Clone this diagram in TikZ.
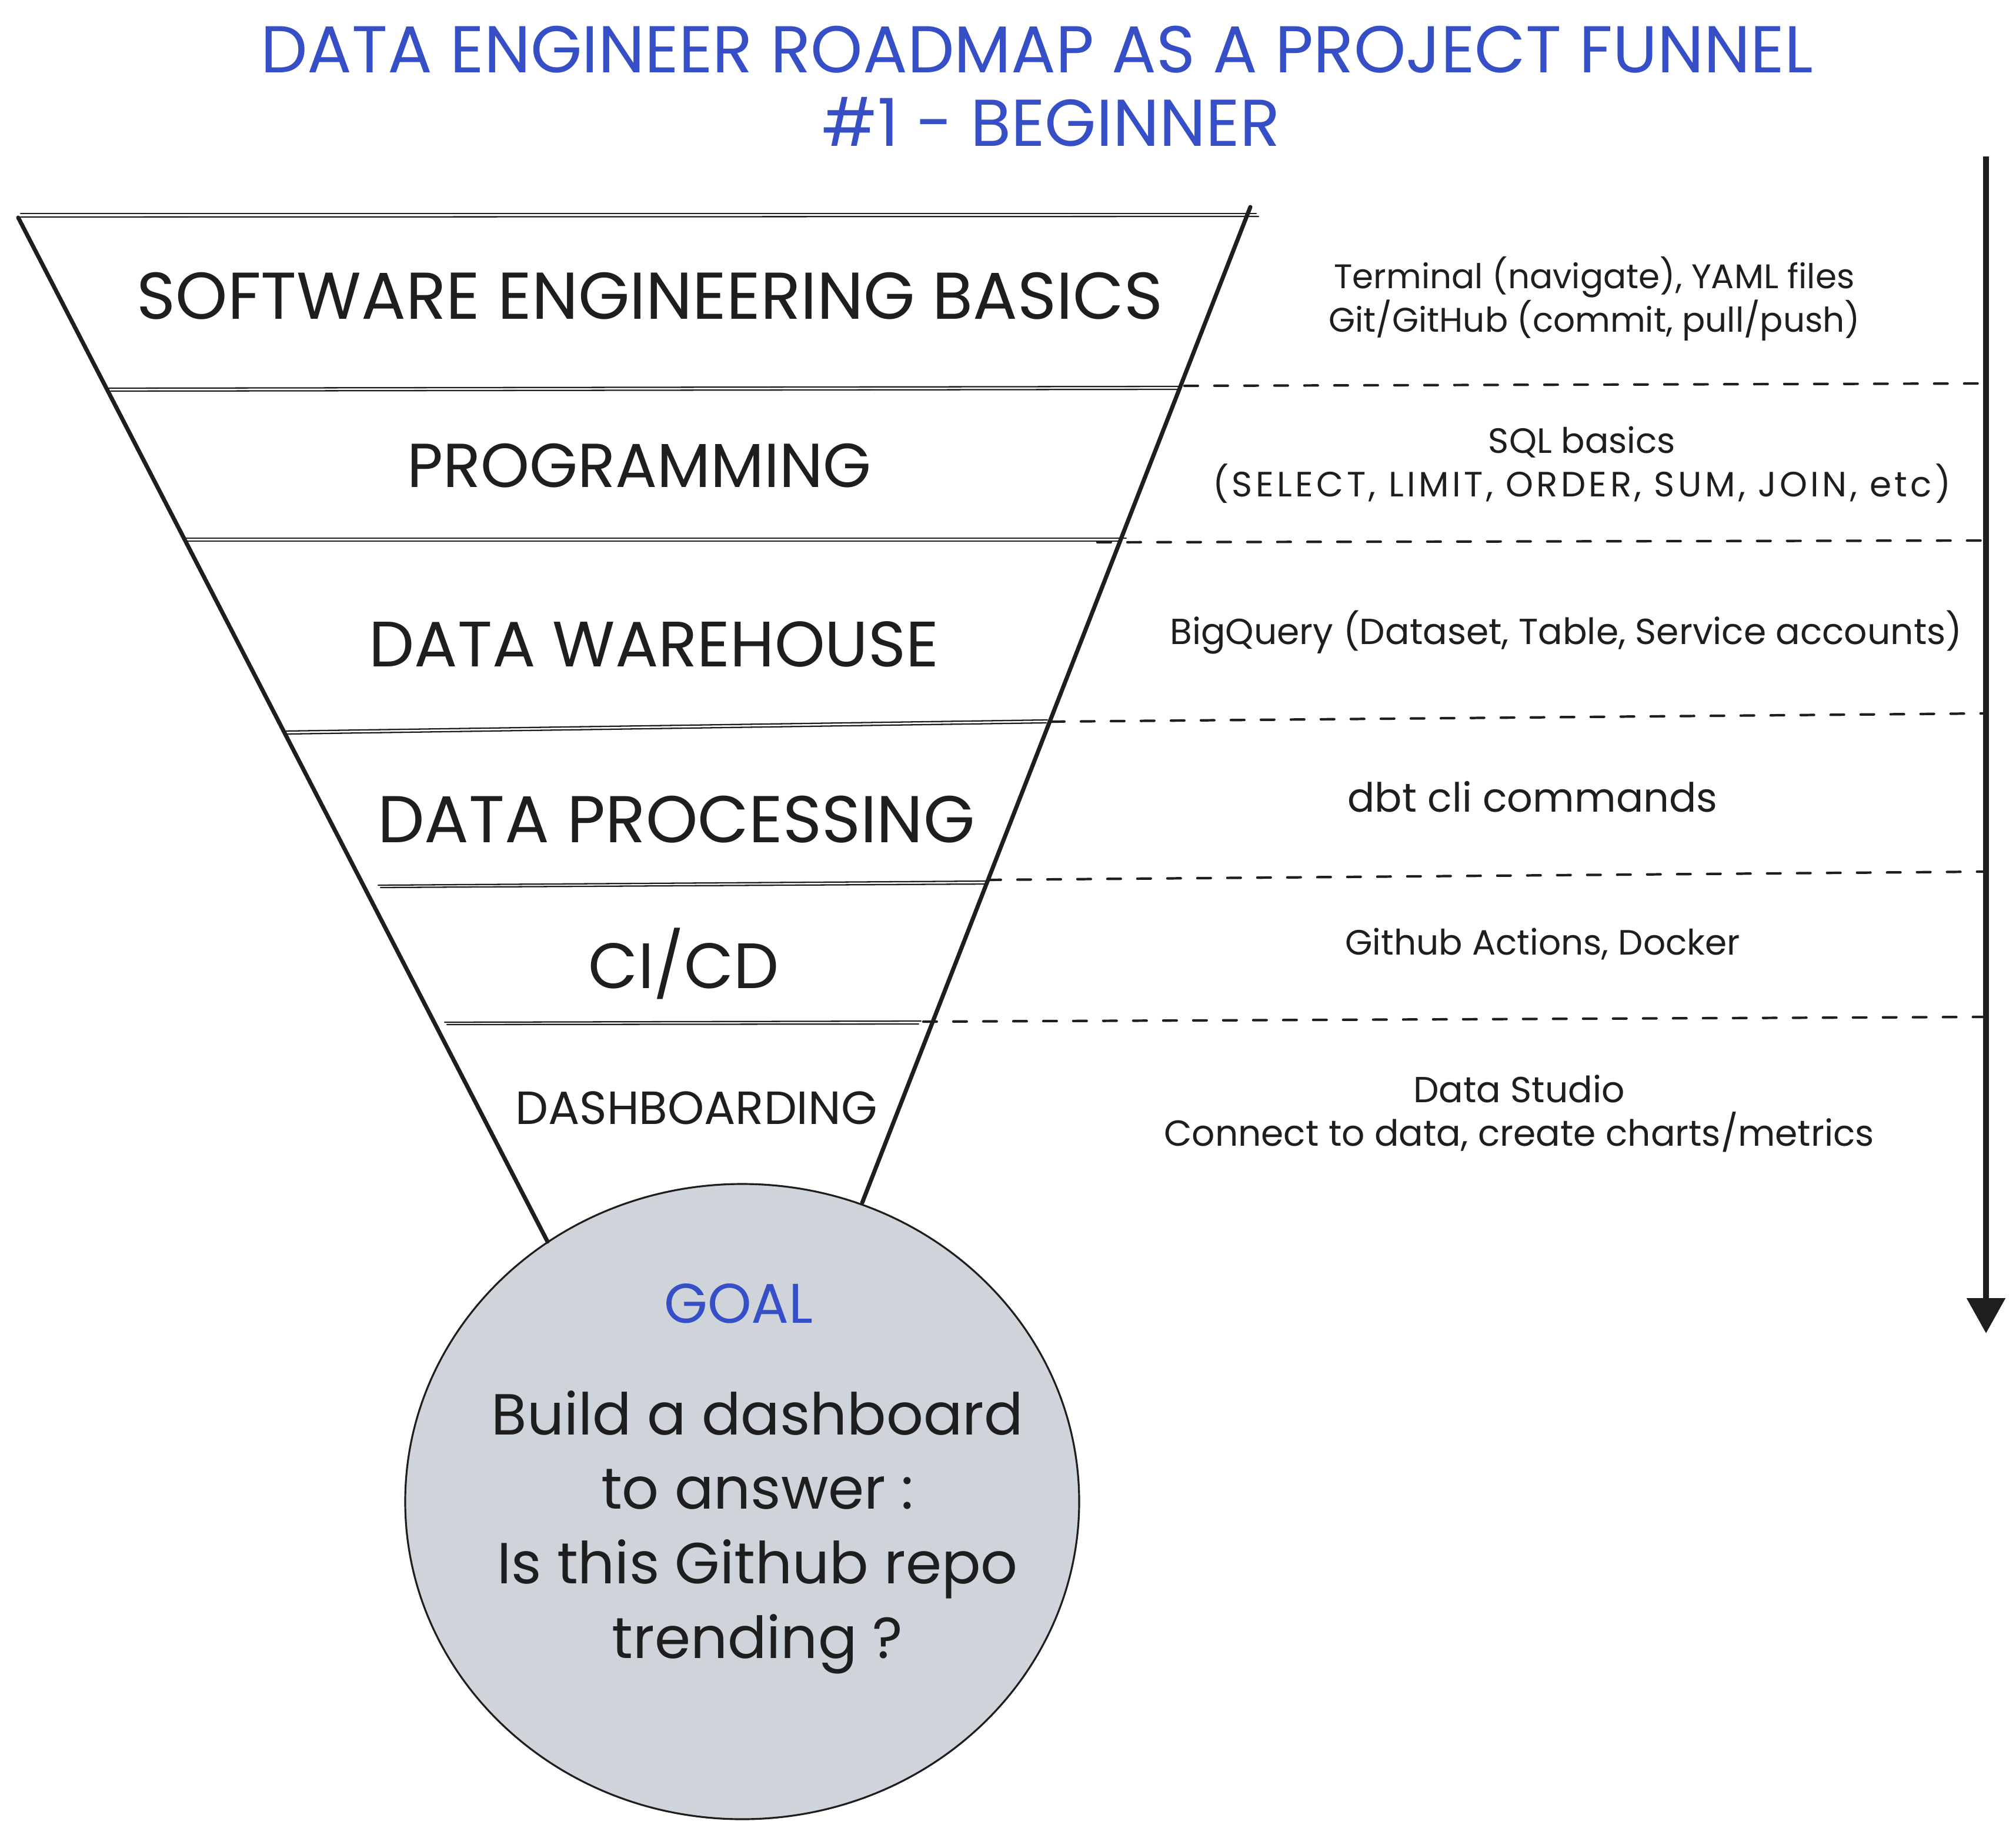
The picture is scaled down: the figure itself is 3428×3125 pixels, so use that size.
\documentclass[tikz,border=0pt]{standalone}
\usepackage{fontspec}
\setmainfont{Poppins}
\usetikzlibrary{arrows.meta,shapes.geometric}
\definecolor{ink}{HTML}{1E1E1E}
\definecolor{titleblue}{HTML}{364FC7}
\definecolor{goalfill}{HTML}{CED4DA}
\newlength{\pxu}
\setlength{\pxu}{0.01cm}
\tikzset{
  titletext/.style={text=titleblue, font=\fontsize{32}{38}\selectfont, inner sep=0pt},
  stagetext/.style={text=ink, font=\fontsize{#1}{34}\selectfont, inner sep=0pt},
  stagetext/.default=31,
  notetext/.style={text=ink, font=\fontsize{#1}{21}\selectfont, align=center, inner sep=0pt},
  notetext/.default=17,
  goaltitle/.style={text=titleblue, font=\fontsize{27}{30}\selectfont, inner sep=0pt},
  goalbody/.style={text=ink, font=\fontsize{28}{36}\selectfont, align=center, inner sep=0pt},
  funneledge/.style={draw=ink, line width=2pt, line cap=round},
  layerline/.style={draw=ink, line width=0.65pt, line cap=round},
  guide/.style={draw=ink, line width=1.2pt, line cap=round, dash pattern=on 6.5pt off 8pt},
  flowarrow/.style={draw=ink, line width=3pt, line join=round, -{Triangle[length=17pt,width=18pt]}},
  goalshape/.style={draw=ink, line width=0.9pt, fill=goalfill, ellipse, minimum width=1146\pxu, minimum height=1080\pxu, inner sep=0pt}
}
\begin{document}
\begin{tikzpicture}[x=0.01cm, y=-0.01cm]
\useasboundingbox (0,0) rectangle (3428,3125);

% title
\node[titletext] (title1) at (1763,84) {DATA ENGINEER ROADMAP AS A PROJECT FUNNEL};
\node[titletext] (title2) at (1787,207) {\#1 - BEGINNER};

% goal ellipse
\node[goalshape] (goal) at (1262,2553) {};

% funnel corners
\coordinate (ftl) at (31,370);
\coordinate (fbl) at (931,2111);
\coordinate (ftr) at (2126,352);
\coordinate (fbr) at (1466,2045);
\draw[funneledge] (ftl) -- (fbl);
\draw[funneledge] (ftr) -- (fbr);

% top double line
\coordinate (t1a) at (35,363); \coordinate (t1b) at (2136,363);
\coordinate (t2a) at (35,369); \coordinate (t2b) at (2140,368);
\draw[layerline] (t1a) -- (t1b);
\draw[layerline] (t2a) -- (t2b);

% layer separators (double strokes)
\coordinate (l1a) at (185,660); \coordinate (l1b) at (2005,657);
\coordinate (l1c) at (188,665); \coordinate (l1d) at (2001,662);
\draw[layerline] (l1a) -- (l1b); \draw[layerline] (l1c) -- (l1d);

\coordinate (l2a) at (316,915); \coordinate (l2b) at (1915,915);
\coordinate (l2c) at (318,920); \coordinate (l2d) at (1905,920);
\draw[layerline] (l2a) -- (l2b); \draw[layerline] (l2c) -- (l2d);

\coordinate (l3a) at (482,1243); \coordinate (l3b) at (1781,1224);
\coordinate (l3c) at (486,1248); \coordinate (l3d) at (1779,1229);
\draw[layerline] (l3a) -- (l3b); \draw[layerline] (l3c) -- (l3d);

\coordinate (l4a) at (643,1505); \coordinate (l4b) at (1679,1498);
\coordinate (l4c) at (647,1509); \coordinate (l4d) at (1675,1503);
\draw[layerline] (l4a) -- (l4b); \draw[layerline] (l4c) -- (l4d);

\coordinate (l5a) at (756,1738); \coordinate (l5b) at (1566,1736);
\coordinate (l5c) at (760,1742); \coordinate (l5d) at (1562,1741);
\draw[layerline] (l5a) -- (l5b); \draw[layerline] (l5c) -- (l5d);

% dashed guides
\coordinate (d1a) at (2014,656); \coordinate (d1b) at (3372,652);
\coordinate (d2a) at (1866,922); \coordinate (d2b) at (3372,919);
\coordinate (d3a) at (1787,1227); \coordinate (d3b) at (3372,1213);
\coordinate (d4a) at (1679,1496); \coordinate (d4b) at (3372,1482);
\coordinate (d5a) at (1570,1737); \coordinate (d5b) at (3372,1729);
\draw[guide] (d1a) -- (d1b);
\draw[guide] (d2a) -- (d2b);
\draw[guide] (d3a) -- (d3b);
\draw[guide] (d4a) -- (d4b);
\draw[guide] (d5a) -- (d5b);

% vertical arrow
\coordinate (arrtop) at (3377,266);
\coordinate (arrtip) at (3377,2267);
\draw[flowarrow] (arrtop) -- (arrtip);

% stage labels
\node[stagetext=32] (s1) at (1105,503) {SOFTWARE ENGINEERING BASICS};
\node[stagetext=30] (s2) at (1087,792) {PROGRAMMING};
\node[stagetext=31] (s3) at (1112,1095) {DATA WAREHOUSE};
\node[stagetext=32] (s4) at (1150,1393) {DATA PROCESSING};
\node[stagetext=31] (s5) at (1163,1638) {CI/CD};
\node[stagetext=22.5] (s6) at (1184,1884) {DASHBOARDING};

% notes
\node[notetext=16.5] (n1) at (2711,508) {Terminal (navigate), YAML files\\Git/GitHub (commit, pull/push)};
\node[notetext=17] (n2) at (2690,790) {SQL basics\\{\addfontfeatures{LetterSpace=9}(SELECT, LIMIT, ORDER, SUM, JOIN, etc)}};
\node[notetext=17.5] (n3) at (2663,1075) {BigQuery (Dataset, Table, Service accounts)};
\node[notetext=19.5] (n4) at (2606,1355) {dbt cli commands};
\node[notetext=17] (n5) at (2623,1605) {Github Actions, Docker};
\node[notetext=17.5] (n6) at (2583,1893) {Data Studio\\Connect to data, create charts/metrics};

% goal text
\node[goaltitle] (goalhead) at (1256,2216) {GOAL};
\node[goalbody] (goaltext) at (1288,2605) {Build a dashboard\\to answer :\\Is this Github repo\\trending ?};
\end{tikzpicture}
\end{document}
